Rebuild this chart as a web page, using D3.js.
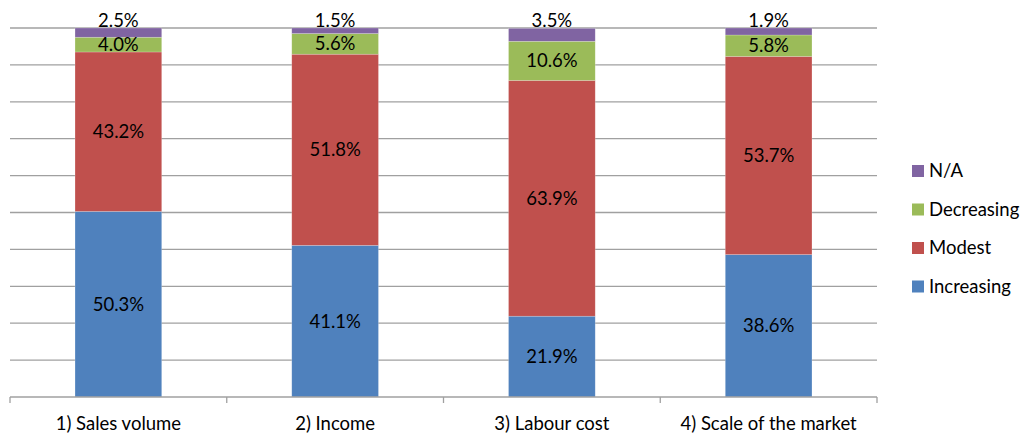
<!DOCTYPE html>
<html>
<head>
<meta charset="utf-8">
<script src="https://cdn.jsdelivr.net/npm/d3@7"></script>
<style>
  body { margin: 0; background: #fff; }
  text { font-family: Lato, "Liberation Sans", Arial, sans-serif; }
</style>
</head>
<body>
<div id="container"></div>
<script>
const categories = ["1) Sales volume", "2) Income", "3) Labour cost", "4) Scale of the market"];
const seriesNames = ["Increasing", "Modest", "Decreasing", "N/A"];
const increasing = [50.3, 41.1, 21.9, 38.6];
const modest = [43.2, 51.8, 63.9, 53.7];
const decreasing = [4.0, 5.6, 10.6, 5.8];
const notAvailable = [2.5, 1.5, 3.5, 1.9];
const yTicks = [0, 10, 20, 30, 40, 50, 60, 70, 80, 90, 100];

const colors = {
    "Increasing": "#4f81bd",
    "Modest": "#c0504d",
    "Decreasing": "#9bbb59",
    "N/A": "#8064a2"
};

const seriesValues = [increasing, modest, decreasing, notAvailable];
const rows = categories.map((c, i) => {
    const row = { cat: c };
    seriesNames.forEach((s, k) => row[s] = seriesValues[k][i]);
    return row;
});

const width = 1025, height = 435;
const plot = { left: 10, right: 877, top: 28, bottom: 397 };

const svg = d3.select("#container").append("svg")
    .attr("width", width)
    .attr("height", height);

const x = d3.scaleBand()
    .domain(categories)
    .range([plot.left, plot.right])
    .padding(0);

const y = d3.scaleLinear()
    .domain([0, 100])
    .range([plot.bottom, plot.top]);

// gridlines
svg.append("g")
    .selectAll("line")
    .data(yTicks.filter(t => t > 0))
    .enter().append("line")
    .attr("x1", plot.left)
    .attr("x2", plot.right)
    .attr("y1", d => y(d))
    .attr("y2", d => y(d))
    .attr("stroke", "#a0a0a0")
    .attr("stroke-width", 1.3);

const stack = d3.stack().keys(seriesNames)(rows);
const barW = x.step() * 0.4;

const layers = svg.append("g")
    .selectAll("g")
    .data(stack)
    .enter().append("g")
    .attr("fill", d => colors[d.key]);

layers.selectAll("rect")
    .data(d => d)
    .enter().append("rect")
    .attr("x", d => x(d.data.cat) + (x.step() - barW) / 2)
    .attr("width", barW)
    .attr("y", d => y(d[1]))
    .attr("height", d => y(d[0]) - y(d[1]))
    .attr("stroke", "rgba(255,255,255,0.35)")
    .attr("stroke-width", 0.6);

// value labels
stack.forEach(layer => {
    svg.append("g")
        .selectAll("text")
        .data(layer)
        .enter().append("text")
        .attr("x", d => x(d.data.cat) + x.step() / 2)
        .attr("y", d => layer.key === "N/A" ? y(100) - 1.5 : (y(d[0]) + y(d[1])) / 2)
        .attr("dy", layer.key === "N/A" ? 0 : "0.35em")
        .attr("text-anchor", "middle")
        .attr("font-size", 18.5)
        .attr("fill", "#000")
        .text(d => (d[1] - d[0]).toFixed(1) + "%");
});

// x axis
const xAxis = svg.append("g");
xAxis.append("line")
    .attr("x1", plot.left)
    .attr("x2", plot.right)
    .attr("y1", plot.bottom)
    .attr("y2", plot.bottom)
    .attr("stroke", "#a0a0a0")
    .attr("stroke-width", 1.3);

const boundaries = categories.map(c => x(c)).concat([plot.right]);
xAxis.selectAll(".tick")
    .data(boundaries)
    .enter().append("line")
    .attr("x1", d => d)
    .attr("x2", d => d)
    .attr("y1", plot.bottom)
    .attr("y2", plot.bottom + 6)
    .attr("stroke", "#a0a0a0")
    .attr("stroke-width", 1.3);

xAxis.selectAll("text")
    .data(categories)
    .enter().append("text")
    .attr("x", d => x(d) + x.step() / 2)
    .attr("y", 430)
    .attr("text-anchor", "middle")
    .attr("font-size", 18.5)
    .attr("fill", "#000")
    .text(d => d);

// legend
const legendOrder = ["N/A", "Decreasing", "Modest", "Increasing"];
const legend = svg.append("g")
    .selectAll("g")
    .data(legendOrder)
    .enter().append("g")
    .attr("transform", (d, i) => `translate(912,${171 + i * 38.5})`);

legend.append("rect")
    .attr("x", 0)
    .attr("y", -6)
    .attr("width", 12)
    .attr("height", 12)
    .attr("fill", d => colors[d]);

legend.append("text")
    .attr("x", 17)
    .attr("y", 0)
    .attr("dy", "0.35em")
    .attr("font-size", 18.5)
    .attr("fill", "#000")
    .text(d => d);
</script>
</body>
</html>
